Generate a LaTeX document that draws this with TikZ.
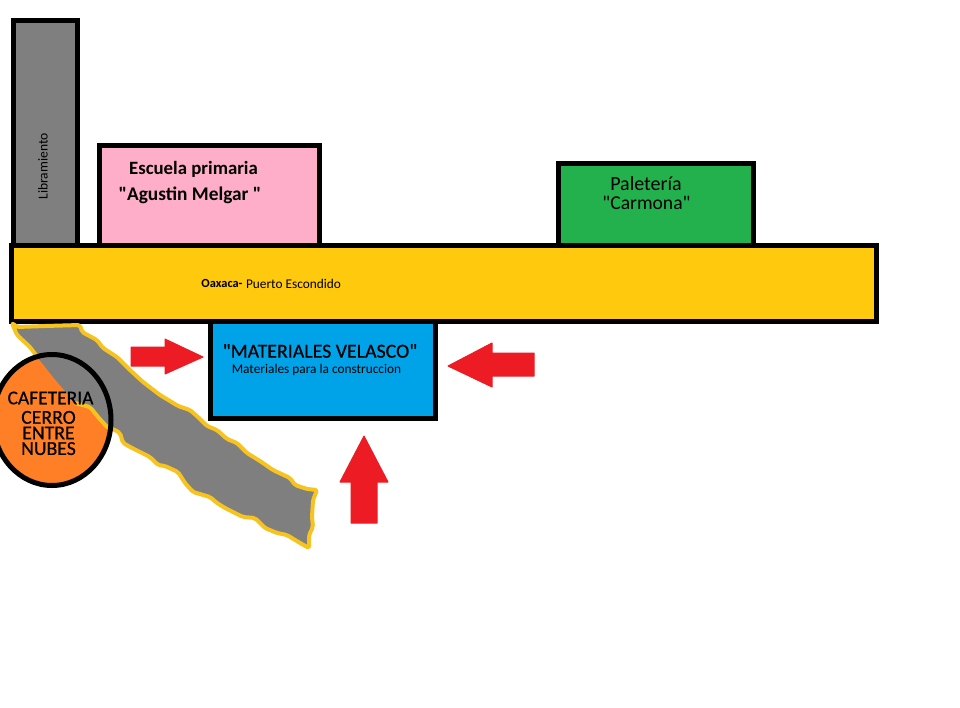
\documentclass[tikz,border=0pt]{standalone}
\usepackage{fontspec}
\newfontfamily\carl{Carlito}
\newfontfamily\carlh[FakeBold=0.5]{Carlito}
\newcommand\fsz[1]{\carl\fontsize{#1}{#1}\selectfont}
\newcommand\fsh[2]{\carlh\fontsize{#1}{#2}\selectfont}
\definecolor{roadgray}{HTML}{7F7F7F}
\definecolor{schoolpink}{HTML}{FFAEC9}
\definecolor{highway}{HTML}{FFC90E}
\definecolor{roadedge}{HTML}{F7C41F}
\definecolor{shopgreen}{HTML}{22B14C}
\definecolor{storeblue}{HTML}{00A2E8}
\definecolor{cafeorange}{HTML}{FF7F27}
\definecolor{arrowred}{HTML}{ED1C24}
\newcommand\roadedge{(38,358) -- (30,347) -- (17,335) -- (12,323) -- (17,327) -- (45,326) -- (80,325) -- (82,332) -- (97,340) -- (103,348) -- (117,357) -- (130,370) -- (143,382) -- (160,395) -- (170,401) -- (178,406) -- (190,410) -- (198,417) -- (207,426) -- (217,430) -- (227,439) -- (237,443) -- (247,453) -- (260,461) -- (273,470) -- (290,478) -- (295,485) -- (307,489) -- (317,490) -- (313,500) -- (312,517) -- (313,527) -- (309,535) -- (309,548) -- (300,543) -- (287,535) -- (277,533) -- (265,528) -- (255,518) -- (243,517) -- (225,508) -- (217,503) -- (210,497) -- (193,492) -- (185,483) -- (178,472) -- (165,466) -- (158,465) -- (150,457) -- (132,448) -- (123,443) -- (120,433) -- (113,429) -- (108,428) -- (98,417) -- (90,407) -- (75,403)}
\tikzset{
  block/.style={draw=black,line width=3.75pt,miter limit=10},
  redarrow/.style={fill=arrowred,draw=arrowred,line width=0.75pt,line join=round},
  label/.style={inner sep=0pt,text=black,align=center},
}
\begin{document}
\begin{tikzpicture}[x=0.75pt,y=-0.75pt]
\useasboundingbox (0,0) rectangle (960,707);
\fill[white] (0,0) rectangle (960,707);
% Libramiento and buildings
\draw[block,fill=roadgray] (13.5,20.5) rectangle (77.5,245);
\draw[block,fill=schoolpink] (99.5,145.5) rectangle (319.5,245);
\draw[block,fill=shopgreen] (558.5,163.5) rectangle (753,245);
% highway
\draw[block,fill=highway] (11.5,245.5) rectangle (876,321.5);
% store
\draw[block,fill=storeblue] (210.5,321.5) rectangle (435.5,418.5);
% cafeteria fill
\fill[cafeorange] (52,420) ellipse [x radius=59,y radius=65.5];
% diagonal road
\fill[roadgray,rounded corners=1.5pt] \roadedge -- (64,390) -- (53,377) -- cycle;
\draw[roadedge,line width=3pt,line join=round,rounded corners=1.5pt] \roadedge;
% cafeteria outline
\draw[black,line width=3.75pt] (52,420) ellipse [x radius=59,y radius=65.5];
% arrows
\draw[redarrow] (131,347) -- (165,347) -- (165,339) -- (203,357) -- (165,374) -- (165,366) -- (131,366) -- cycle;
\draw[redarrow] (534,353) -- (492,353) -- (492,343) -- (448,366) -- (492,387) -- (492,376) -- (534,376) -- cycle;
\draw[redarrow] (351,523) -- (351,482) -- (340,482) -- (364,436) -- (388,482) -- (377,482) -- (377,523) -- cycle;
% texts
\node[label,font=\fsz{10.2pt},rotate=90] (librato) at (43,166.5) {Libramiento};
\node[label,font=\fsz{14.1pt}\bfseries] (escuela) at (193.5,169) {Escuela primaria};
\node[label,font=\fsz{14.5pt}\bfseries] (agustin) at (190,195) {"Agustin Melgar "};
\node[label,font=\fsz{15pt}] (paleteria) at (646,184) {Paletería};
\node[label,font=\fsz{14.7pt}] (carmona) at (646.5,203) {"Carmona"};
\node[label,font=\fsz{9.3pt}\bfseries] (oaxaca) at (222,283) {Oaxaca-};
\node[label,font=\fsz{10pt}] (puerto) at (293.5,284) {Puerto Escondido};
\node[label,font=\fsh{14.9pt}{14.9pt}] (materiales) at (320,351) {"MATERIALES VELASCO"};
\node[label,font=\fsz{10pt}] (constr) at (316.5,370) {Materiales para la construccion};
\node[label,font=\fsh{14.6pt}{14.6pt}] (cafe) at (50.5,398) {CAFETERIA};
\node[label,font=\fsh{14.8pt}{11.7pt}] (cerro) at (48.5,433) {CERRO\\ENTRE\\NUBES};
\end{tikzpicture}
\end{document}
